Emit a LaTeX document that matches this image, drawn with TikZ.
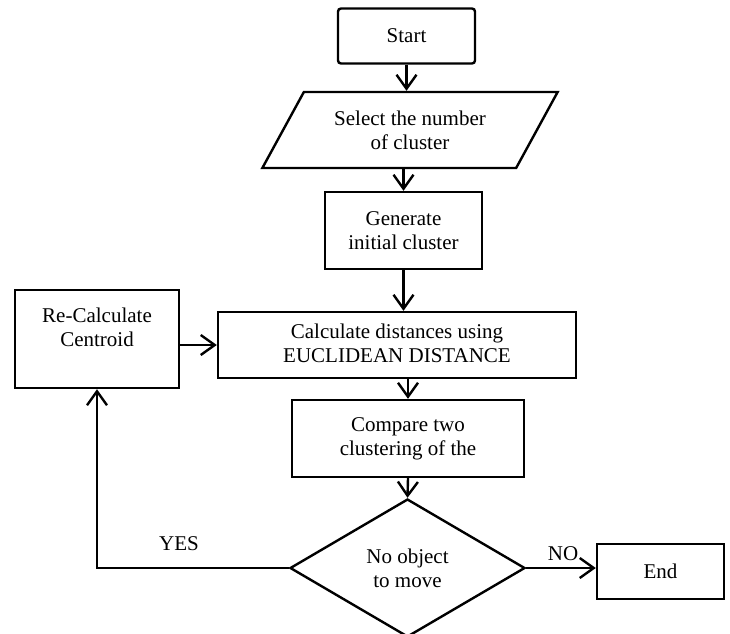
\documentclass[tikz,border=0pt]{standalone}
\usepackage{fontspec}
\setmainfont{Liberation Serif}
\usepackage{tikz}
\usetikzlibrary{shapes.geometric,arrows.meta}
\newcommand\boxline{2.4pt}

\begin{document}
\begin{tikzpicture}[x=1pt,y=-1pt,
    font=\fontsize{21}{24}\selectfont,
    line width=\boxline,
    box/.style={draw,rectangle,align=center,inner sep=0pt},
    arr/.style={-{Straight Barb[length=14pt,width=20pt,line width=\boxline]}}]
            \useasboundingbox (0,0) rectangle (730,633);
            \node[box,rounded corners=3pt,minimum width=137pt,minimum height=55pt] (S) at (406.5,36) {Start};
            \node[draw,trapezium,trapezium left angle=52.6,trapezium right angle=127.4,trapezium stretches=true,
                  minimum width=296pt,minimum height=76pt,inner sep=0pt,align=center] (N) at (410,130) {Select the number\\of cluster};
            \node[box,minimum width=157pt,minimum height=77pt] (G) at (403.5,230.5) {Generate\\initial cluster};
            \node[box,minimum width=358pt,minimum height=66pt] (C) at (397,345) {\mbox{}\\[-12pt]Calculate distances using\\EUCLIDEAN DISTANCE};
            \node[box,minimum width=164pt,minimum height=98pt] (R) at (97,339) {Re-Calculate\\Centroid\\ \mbox{}};
            \node[box,minimum width=232pt,minimum height=77pt] (K) at (408,438.5) {Compare two\\clustering of the};
            \node[draw,diamond,aspect=1.7,minimum width=235pt,minimum height=138pt,inner sep=0pt,align=center] (D) at (407.5,568) {No object\\to move};
            \node[box,minimum width=127pt,minimum height=55pt] (E) at (660.5,571.5) {End};
            \node (Y) at (179,544) {YES};
            \node (O) at (563,554) {NO};
            % connectors
            \draw[arr] (S.south) -- (S.south |- N.north);
            \draw[arr] (G.north |- N.south) -- (G.north);
            \draw[arr] (G.south) -- (G.south |- C.north);
            \draw[arr] (K.north |- C.south) -- (K.north);
            \draw[arr] (K.south) -- (D.north);
            \draw[arr] (D.east) -- (D.east -| E.west);
            \draw[arr] (D.west) -- (R.south |- D.west) -- (R.south);
            \draw[arr] (C.west -| R.east) -- (C.west);
        \end{tikzpicture}
\end{document}
